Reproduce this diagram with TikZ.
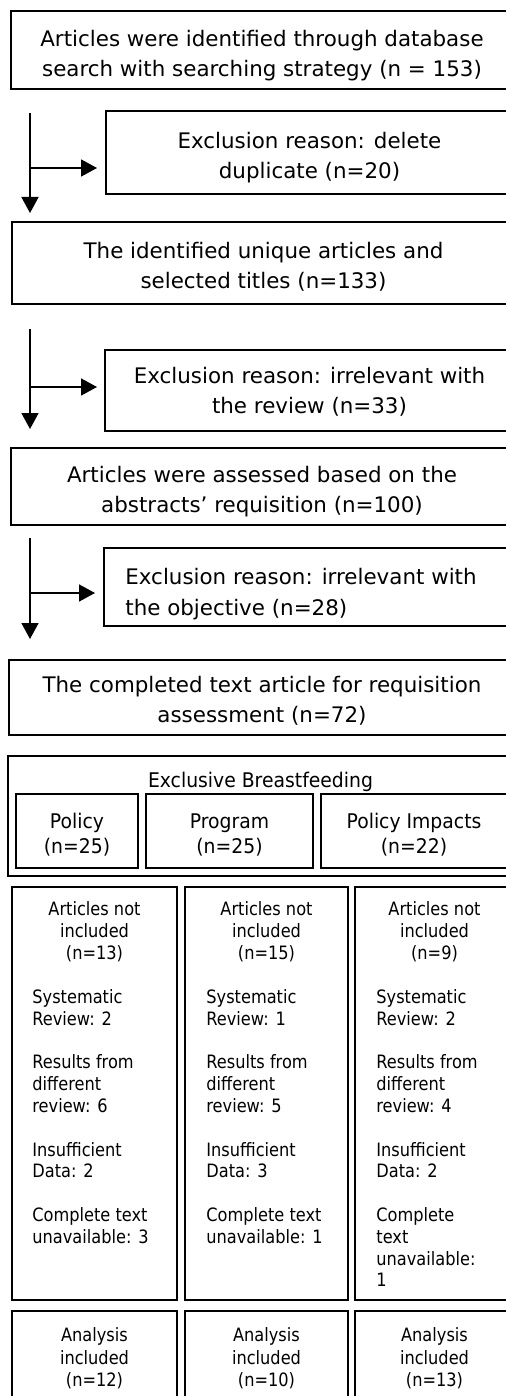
\documentclass[tikz,border=0pt]{standalone}
\usepackage{fontspec}
\setmainfont{DejaVu Sans}
\newfontfamily\condfont{DejaVu Sans}[FakeStretch=0.88]
\newfontfamily\semifont{DejaVu Sans}[FakeStretch=0.93]
\usetikzlibrary{arrows.meta,fit}
\newcommand\tstrut[1]{\rule{0pt}{#1}}
\begin{document}
\begin{tikzpicture}[x=0.5pt,y=-0.5pt,
  box/.style={draw, line width=0.9pt, inner sep=0pt},
  bigtxt/.style={inner sep=0pt, align=center, anchor=north, font=\fontsize{10.7}{15}\selectfont},
  bigleft/.style={inner sep=0pt, align=left, anchor=north west, font=\fontsize{10.7}{15.5}\selectfont},
  midtxt/.style={inner sep=0pt, align=center, anchor=north, font=\semifont\fontsize{10.1}{12.5}\selectfont},
  smalltxt/.style={inner sep=0pt, align=center, anchor=north, font=\condfont\fontsize{9.2}{10.9}\selectfont},
  smallleft/.style={inner sep=0pt, align=left, anchor=north west, font=\condfont\fontsize{9.2}{10.9}\selectfont},
  anatxt/.style={inner sep=0pt, align=center, anchor=north, font=\condfont\fontsize{9.2}{11.3}\selectfont},
  arr/.style={line width=0.8pt, -{Triangle[length=8pt,width=8.5pt]}}]
\path[use as bounding box] (0,0) rectangle (506,1396);
\clip (0,0) rectangle (506,1396);

% main flow boxes
\node[box, fit={(11,11) (513,89)}] (b1) {};
\node[bigtxt] (t1) at (262,28) {\tstrut{9pt}Articles were identified through database\\search with searching strategy (n = 153)};

\node[box, fit={(106,111) (513,194)}] (b2) {};
\node[bigtxt] (t2) at (309.5,130) {\tstrut{9pt}Exclusion reason: delete\\duplicate (n=20)};

\node[box, fit={(12,222) (514,304)}] (b3) {};
\node[bigtxt] (t3) at (263.5,240) {\tstrut{9pt}The identified unique articles and\\selected titles (n=133)};

\node[box, fit={(105,350) (514,431)}] (b4) {};
\node[bigtxt] (t4) at (309.5,365) {\tstrut{9pt}Exclusion reason: irrelevant with\\the review (n=33)};

\node[box, fit={(11,448) (513,525)}] (b5) {};
\node[bigtxt] (t5) at (262,464) {\tstrut{9pt}Articles were assessed based on the\\abstracts’ requisition (n=100)};

\node[box, fit={(104,548) (514,626)}] (b6) {};
\node[bigleft] (t6) at (125,566) {\tstrut{9pt}Exclusion reason: irrelevant with\\the objective (n=28)};

\node[box, fit={(9,660) (515,735)}] (b7) {};
\node[bigtxt] (t7) at (262,674) {\tstrut{9pt}The completed text article for requisition\\assessment (n=72)};

% arrows
\coordinate (a1top) at (30,113);
\coordinate (a1bot) at (30,213);
\coordinate (a1mid) at (30,168);
\coordinate (a1tip) at (97,168);
\draw[arr] (a1top) -- (a1bot);
\draw[arr] (a1mid) -- (a1tip);

\coordinate (a2top) at (30,329);
\coordinate (a2bot) at (30,429);
\coordinate (a2mid) at (30,387);
\coordinate (a2tip) at (97,387);
\draw[arr] (a2top) -- (a2bot);
\draw[arr] (a2mid) -- (a2tip);

\coordinate (a3top) at (30,538);
\coordinate (a3bot) at (30,639);
\coordinate (a3mid) at (30,593);
\coordinate (a3tip) at (95,593);
\draw[arr] (a3top) -- (a3bot);
\draw[arr] (a3mid) -- (a3tip);

% Exclusive Breastfeeding
\node[box, fit={(8,756) (513,876)}] (ebf) {};
\node[midtxt] (ebft) at (260.5,771) {\tstrut{8pt}Exclusive Breastfeeding};
\node[box, fit={(16,794) (138,868)}] (p1) {};
\node[midtxt] (p1t) at (77,812) {\tstrut{8pt}Policy\\(n=25)};
\node[box, fit={(146,794) (313,868)}] (p2) {};
\node[midtxt] (p2t) at (229.5,812) {\tstrut{8pt}Program\\(n=25)};
\node[box, fit={(321,794) (508,868)}] (p3) {};
\node[midtxt] (p3t) at (414,812) {\tstrut{8pt}Policy Impacts\\(n=22)};

% not included columns
\node[box, fit={(12,887) (177,1300)}] (c1) {};
\node[smalltxt] (c1h) at (94.5,901) {\tstrut{7pt}Articles not\\included\\(n=13)};
\node[smallleft] (c1l) at (32,989) {\tstrut{7pt}Systematic\\Review: 2\\[10.9pt]Results from\\different\\review: 6\\[10.9pt]Insufficient\\Data: 2\\[10.9pt]Complete text\\unavailable: 3};

\node[box, fit={(185,887) (348,1300)}] (c2) {};
\node[smalltxt] (c2h) at (266.5,901) {\tstrut{7pt}Articles not\\included\\(n=15)};
\node[smallleft] (c2l) at (206,989) {\tstrut{7pt}Systematic\\Review: 1\\[10.9pt]Results from\\different\\review: 5\\[10.9pt]Insufficient\\Data: 3\\[10.9pt]Complete text\\unavailable: 1};

\node[box, fit={(355,887) (514,1300)}] (c3) {};
\node[smalltxt] (c3h) at (434.5,901) {\tstrut{7pt}Articles not\\included\\(n=9)};
\node[smallleft] (c3l) at (376,989) {\tstrut{7pt}Systematic\\Review: 2\\[10.9pt]Results from\\different\\review: 4\\[10.9pt]Insufficient\\Data: 2\\[10.9pt]Complete\\text\\unavailable:\\1};

% analysis included
\node[box, fit={(12,1311) (177,1420)}] (d1) {};
\node[anatxt] (d1t) at (94.5,1327) {\tstrut{7pt}Analysis\\included\\(n=12)};
\node[box, fit={(185,1311) (348,1420)}] (d2) {};
\node[anatxt] (d2t) at (266.5,1327) {\tstrut{7pt}Analysis\\included\\(n=10)};
\node[box, fit={(355,1311) (514,1420)}] (d3) {};
\node[anatxt] (d3t) at (434.5,1327) {\tstrut{7pt}Analysis\\included\\(n=13)};
\end{tikzpicture}
\end{document}
